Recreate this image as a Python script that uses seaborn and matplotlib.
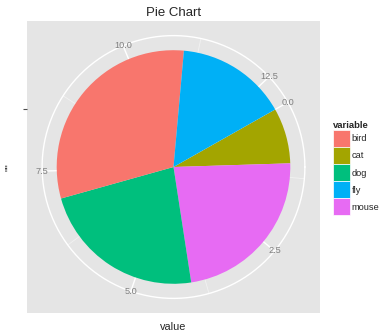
import numpy as np
import matplotlib
matplotlib.use("Agg")
import matplotlib.pyplot as plt
import seaborn as sns
from matplotlib.patches import Patch

# Slices in stacking order, clockwise from the 0 break
animals = ["cat", "mouse", "dog", "bird", "fly"]
counts = [1, 3, 3, 4, 2]

# Legend entries and their hue colours
legend_order = ["bird", "cat", "dog", "fly", "mouse"]
hue_colors = ["#F8766D", "#A3A500", "#00BF7D", "#00B0F6", "#E76BF3"]

# Angular scale breaks
major_breaks = [0.0, 2.5, 5.0, 7.5, 10.0, 12.5]
major_labels = ["0.0", "2.5", "5.0", "7.5", "10.0", "12.5"]
minor_breaks = [1.25, 3.75, 6.25, 8.75, 11.25]

START_DEG = 60.5  # where value 0 sits, degrees clockwise from 12 o'clock

sns.set_theme(style="white")
plt.rcParams["font.family"] = ["Liberation Sans", "DejaVu Sans"]

palette = dict(zip(legend_order, sns.color_palette(hue_colors)))
total = float(sum(counts))

W, H = 381, 333
fig = plt.figure(figsize=(W / 100, H / 100), dpi=100)
px0, py0, px1, py1 = 27, 21, 320, 313
pw, ph = px1 - px0, py1 - py0
ax = fig.add_axes([px0 / W, 1 - py1 / H, pw / W, ph / H])

r_out = 0.45 * ph
r_pie = 0.40 * ph


def theta(v):
    ang = np.deg2rad(START_DEG + v / total * 360.0)
    return np.pi / 2 - ang


# Radial grid lines
for v in minor_breaks:
    t = theta(v)
    ax.plot([0, r_out * np.cos(t)], [0, r_out * np.sin(t)],
            color="#F2F2F2", lw=0.6, zorder=1, solid_capstyle="butt")
for v in major_breaks:
    t = theta(v)
    ax.plot([0, r_out * np.cos(t)], [0, r_out * np.sin(t)],
            color="white", lw=1.0, zorder=1, solid_capstyle="butt")
tt = np.linspace(0, 2 * np.pi, 400)
ax.plot(r_out * np.cos(tt), r_out * np.sin(tt), color="white", lw=1.0, zorder=1)

# The pie itself
ax.pie(counts, colors=[palette[a] for a in animals], radius=r_pie,
       center=(0, 0), startangle=90 - START_DEG, counterclock=False,
       frame=True, wedgeprops=dict(linewidth=0, zorder=3))

ax.set_aspect("auto")
ax.set_xlim(-pw / 2, pw / 2)
ax.set_ylim(-ph / 2, ph / 2)
ax.set_facecolor("#E5E5E5")
for s in ax.spines.values():
    s.set_visible(False)

# Angular tick labels on the outer circle
for v, lab in zip(major_breaks, major_labels):
    t = theta(v)
    ax.text(r_out * np.cos(t), r_out * np.sin(t), lab, ha="center", va="center",
            color="#7F7F7F", fontsize=6.6, zorder=4)

ax.set_xticks([])
ax.set_yticks([0.2 * ph])
ax.set_yticklabels([""])
ax.tick_params(axis="y", left=True, length=3, width=0.8, color="#4D4D4D")
ax.set_xlabel("")
ax.set_ylabel("")

fig.text(173.5 / W, 1 - 13 / H, "Pie Chart", ha="center", va="center", fontsize=9.5)
fig.text(173.5 / W, 1 - 327 / H, "value", ha="center", va="center", fontsize=7.8)
fig.text(10 / W, 1 - 167 / H, '""', ha="center", va="center", fontsize=8, rotation=90)

handles = [Patch(facecolor=palette[a], edgecolor="white", linewidth=0.5) for a in legend_order]
leg = fig.legend(handles, legend_order, title="variable", loc="upper left",
                 bbox_to_anchor=(332.5 / W, 1 - 121 / H), frameon=False,
                 fontsize=6.7, title_fontproperties={"weight": "bold", "size": 6.8},
                 handlelength=1.88, handleheight=2.45, labelspacing=0,
                 handletextpad=0.2, borderpad=0, borderaxespad=0, alignment="left")

fig.savefig("out.png", dpi=100)
